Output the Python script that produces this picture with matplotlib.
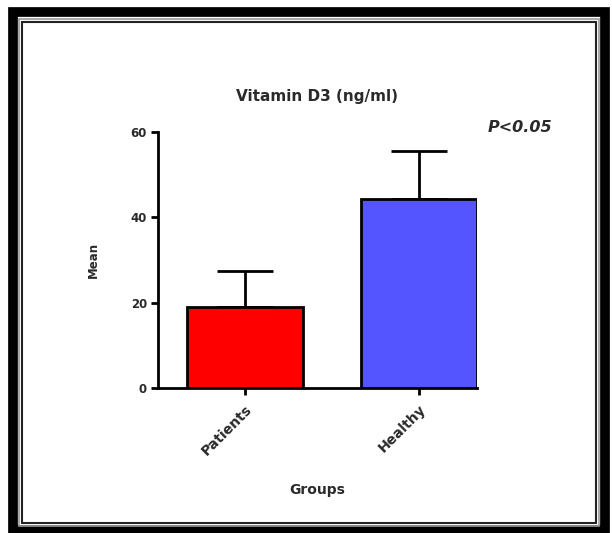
import matplotlib
matplotlib.use("Agg")
import matplotlib.pyplot as plt
from matplotlib.patches import Rectangle

groups = ["Patients", "Healthy"]
means = [19.0, 44.3]
errors = [8.4, 11.2]
colors = ["#FF0000", "#5555FF"]
yticks = [0, 20, 40, 60]
title = "Vitamin D3 (ng/ml)"
pval = "P<0.05"

W, H = 612, 533
fig = plt.figure(figsize=(W / 100, H / 100), dpi=100)
fig.patch.set_facecolor("white")

def fx(x):
    return x / W
def fy(y):
    return 1 - y / H

outer = Rectangle((fx(13), fy(530)), fx(605) - fx(13), fy(12) - fy(530),
                  transform=fig.transFigure, fill=False, edgecolor="black", linewidth=7)
fig.patches.append(outer)
mid = Rectangle((fx(19), fy(526)), fx(599) - fx(19), fy(19) - fy(526),
                transform=fig.transFigure, fill=False, edgecolor="#999999", linewidth=1.2)
fig.patches.append(mid)
inner = Rectangle((fx(22), fy(523)), fx(596) - fx(22), fy(22) - fy(523),
                  transform=fig.transFigure, fill=False, edgecolor="#222222", linewidth=1.5)
fig.patches.append(inner)

ax = fig.add_axes([fx(158), fy(388), fx(477) - fx(158), fy(132) - fy(388)])
x = list(range(len(groups)))
ax.bar(x, means, width=0.667, color=colors, edgecolor="black", linewidth=2, zorder=2)
ax.errorbar(x, means, yerr=[[0] * len(errors), errors], fmt="none", ecolor="black",
            elinewidth=2, capsize=20.5, capthick=2, zorder=1)

ax.set_xlim(-0.5, 1.3335)
ax.set_ylim(0, 60)
ax.set_yticks(yticks)
ax.set_xticks(x)
for s in ["top", "right"]:
    ax.spines[s].set_visible(False)
for s in ["left", "bottom"]:
    ax.spines[s].set_linewidth(2)
ax.tick_params(axis="both", width=2, length=5, colors="black", labelcolor="#2a2a2a")
ax.tick_params(axis="y", pad=3)
ax.tick_params(axis="x", pad=5)

fam = "DejaVu Sans"
fp = dict(family=fam, weight="bold")
ax.set_yticklabels([str(t) for t in yticks], fontdict=fp, fontsize=8.5)
ax.set_xticklabels(groups, fontdict=fp, fontsize=10, rotation=45, ha="right",
                   rotation_mode="anchor")
ax.set_ylabel("Mean", fontdict=fp, fontsize=8.5, color="#2a2a2a", labelpad=22)
ax.set_xlabel("Groups", fontdict=fp, fontsize=10, color="#2a2a2a", labelpad=18)
fig.text(fx(317), fy(97), title, ha="center", va="center", color="#2a2a2a",
         family=fam, weight="bold", fontsize=11)
fig.text(fx(520), fy(127), pval, ha="center", va="center", color="#2a2a2a",
         family=fam, weight="bold", style="italic", fontsize=11.5)

fig.savefig("out.png", dpi=100, facecolor="white")
